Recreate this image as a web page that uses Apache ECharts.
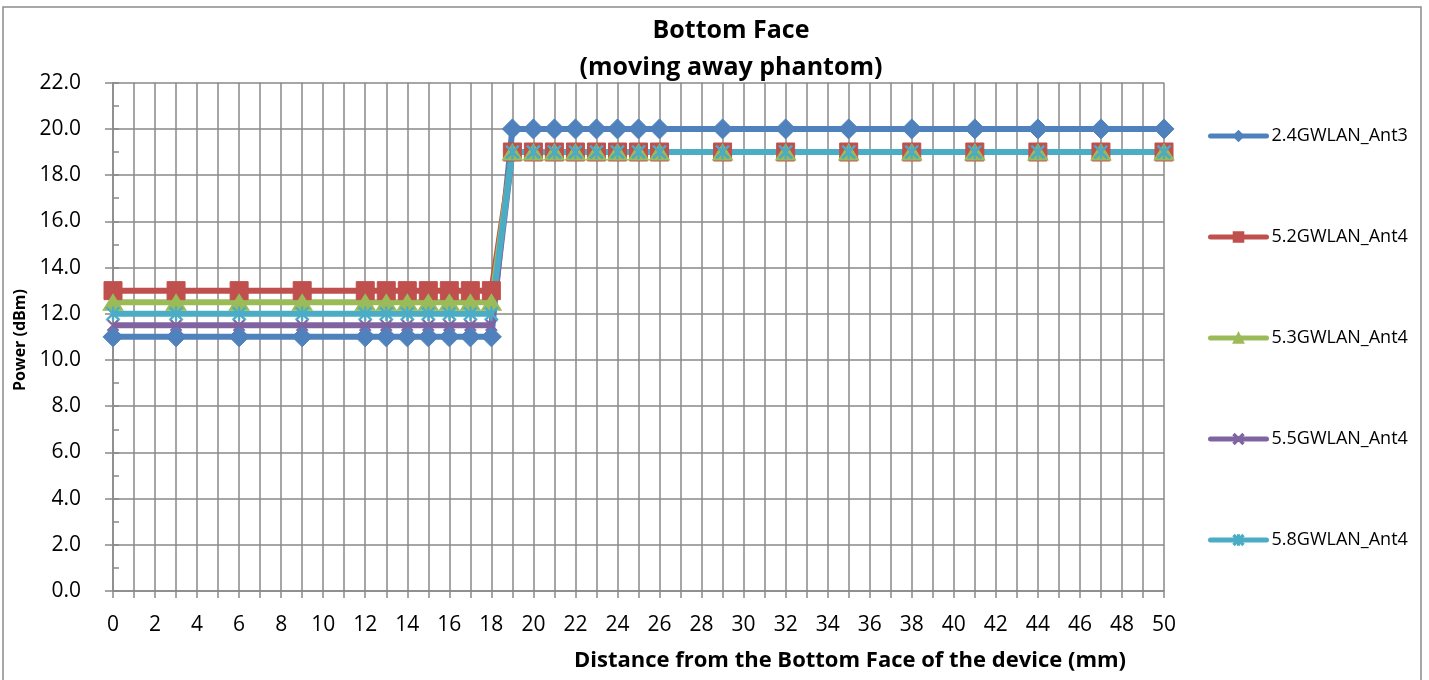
<!DOCTYPE html>
<html>
<head>
<meta charset="utf-8">
<script src="https://cdn.jsdelivr.net/npm/echarts@6/dist/echarts.min.js"></script>
<style>
html,body{margin:0;padding:0;background:#fff;}
#chart{width:1429px;height:680px;}
</style>
</head>
<body>
<div id="chart"></div>
<script>
// Distances (mm)
var distances = [0, 3, 6, 9, 12, 13, 14, 15, 16, 17, 18, 19, 20, 21, 22, 23, 24, 25, 26, 29, 32, 35, 38, 41, 44, 47, 50];
// Power values (dBm)
var wlan24Ant3 = [11, 11, 11, 11, 11, 11, 11, 11, 11, 11, 11, 20, 20, 20, 20, 20, 20, 20, 20, 20, 20, 20, 20, 20, 20, 20, 20];
var wlan52Ant4 = [13, 13, 13, 13, 13, 13, 13, 13, 13, 13, 13, 19, 19, 19, 19, 19, 19, 19, 19, 19, 19, 19, 19, 19, 19, 19, 19];
var wlan53Ant4 = [12.5, 12.5, 12.5, 12.5, 12.5, 12.5, 12.5, 12.5, 12.5, 12.5, 12.5, 19, 19, 19, 19, 19, 19, 19, 19, 19, 19, 19, 19, 19, 19, 19, 19];
var wlan55Ant4 = [11.5, 11.5, 11.5, 11.5, 11.5, 11.5, 11.5, 11.5, 11.5, 11.5, 11.5, 19, 19, 19, 19, 19, 19, 19, 19, 19, 19, 19, 19, 19, 19, 19, 19];
var wlan58Ant4 = [12, 12, 12, 12, 12, 12, 12, 12, 12, 12, 12, 19, 19, 19, 19, 19, 19, 19, 19, 19, 19, 19, 19, 19, 19, 19, 19];
var seriesNames = ['2.4GWLAN_Ant3', '5.2GWLAN_Ant4', '5.3GWLAN_Ant4', '5.5GWLAN_Ant4', '5.8GWLAN_Ant4'];
var titleText = 'Bottom Face\n(moving away phantom)';
var xTitle = 'Distance from the Bottom Face of the device (mm)';
var yTitle = 'Power (dBm)';

var colors = ['#4F81BD', '#C0504D', '#9BBB59', '#8064A2', '#4BACC6'];
var xSymbol = 'path://M1,0 L5,4 L9,0 L10,1 L6,5 L10,9 L9,10 L5,6 L1,10 L0,9 L4,5 L0,1 Z';
var starSymbol = 'path://M1,0 L4.4,3.4 L4.4,0 L5.6,0 L5.6,3.4 L9,0 L10,1 L6,5 L10,9 L9,10 L5.6,6.6 L5.6,10 L4.4,10 L4.4,6.6 L1,10 L0,9 L4,5 L0,1 Z';
var symbols = ['diamond', 'rect', 'triangle', xSymbol, starSymbol];
var symbolSizes = [20, 18, [20, 16], 12, 14];
var allValues = [wlan24Ant3, wlan52Ant4, wlan53Ant4, wlan55Ant4, wlan58Ant4];

function pairs(vals) {
  return distances.map(function (d, i) { return [d, vals[i]]; });
}

var gridColor = '#898989';
var font = '"Open Sans", "Noto Sans", sans-serif';

var series = allValues.map(function (vals, i) {
  return {
    name: seriesNames[i],
    type: 'line',
    data: pairs(vals),
    symbol: symbols[i],
    symbolSize: symbolSizes[i],
    showAllSymbol: true,
    clip: false,
    lineStyle: { color: colors[i], width: 6 },
    itemStyle: { color: colors[i], borderColor: colors[i], borderWidth: (i >= 3 ? 0.6 : 1) },
    emphasis: { disabled: true }
  };
});

var chart = echarts.init(document.getElementById('chart'), null, { renderer: 'canvas' });
chart.setOption({
  animation: false,
  backgroundColor: '#fff',
  color: colors,
  grid: { left: 113, right: 265, top: 82.7, bottom: 89, containLabel: false },
  xAxis: [{
    type: 'value', min: 0, max: 50, interval: 1,
    axisLine: { show: true, onZero: false, lineStyle: { color: gridColor, width: 1.5 } },
    axisTick: { show: true, length: 7, lineStyle: { color: gridColor, width: 1.5 } },
    axisLabel: {
      margin: 24, color: '#000', fontSize: 21, fontFamily: font,
      formatter: function (v) { return v % 2 === 0 ? String(v) : ''; }
    },
    splitLine: { show: true, lineStyle: { color: gridColor, width: 1.5 } }
  }],
  yAxis: [{
    type: 'value', min: 0, max: 22, interval: 2,
    axisLine: { show: true, onZero: false, lineStyle: { color: gridColor, width: 1.5 } },
    axisTick: { show: true, length: 8, lineStyle: { color: gridColor, width: 1.5 } },
    axisLabel: {
      margin: 32, color: '#000', fontSize: 21, fontFamily: font,
      formatter: function (v) { return v.toFixed(1); }
    },
    splitLine: { show: true, lineStyle: { color: gridColor, width: 1.5 } }
  }, {
    type: 'value', min: 0, max: 22, interval: 1, position: 'left',
    axisLine: { show: false },
    axisTick: { show: true, inside: true, length: 6, lineStyle: { color: gridColor, width: 1.5 } },
    axisLabel: { show: false },
    splitLine: { show: false }
  }],
  legend: {
    orient: 'vertical', left: 1203, top: 122,
    itemWidth: 56, itemHeight: 12, itemGap: 83,
    lineStyle: { width: 5, cap: 'round' },
    textStyle: { color: '#000', fontSize: 18, fontFamily: font },
    data: seriesNames
  },
  graphic: [
    { type: 'rect', shape: { x: 3, y: 7, width: 1418, height: 690 }, style: { fill: 'none', stroke: '#8c8c8c', lineWidth: 1.5 }, silent: true },
    { type: 'text', x: 731, y: 12, style: { text: titleText, textAlign: 'center', textVerticalAlign: 'top', font: 'bold 25px ' + font, fill: '#000', lineHeight: 37 }, silent: true },
    { type: 'text', x: 850, y: 661, style: { text: xTitle, textAlign: 'center', textVerticalAlign: 'middle', font: 'bold 22px ' + font, fill: '#000' }, silent: true },
    { type: 'text', x: 20, y: 340, rotation: Math.PI / 2, style: { text: yTitle, textAlign: 'center', textVerticalAlign: 'middle', font: 'bold 16px ' + font, fill: '#000' }, silent: true }
  ],
  series: series
});
</script>
</body>
</html>
